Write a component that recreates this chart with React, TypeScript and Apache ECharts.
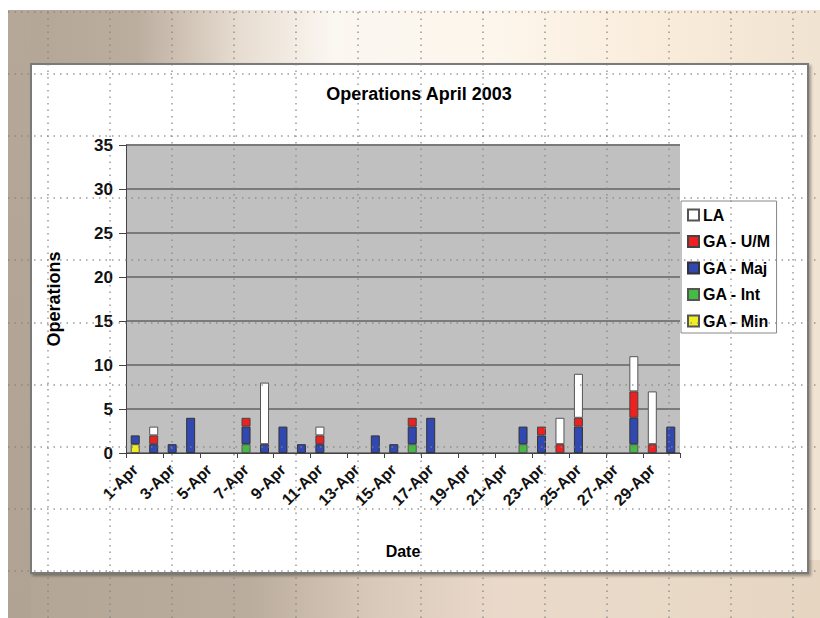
import React, { useEffect, useRef } from "react";
import * as echarts from "echarts";

const categories = [
  "1-Apr", "2-Apr", "3-Apr", "4-Apr", "5-Apr", "6-Apr", "7-Apr", "8-Apr", "9-Apr", "10-Apr",
  "11-Apr", "12-Apr", "13-Apr", "14-Apr", "15-Apr", "16-Apr", "17-Apr", "18-Apr", "19-Apr", "20-Apr",
  "21-Apr", "22-Apr", "23-Apr", "24-Apr", "25-Apr", "26-Apr", "27-Apr", "28-Apr", "29-Apr", "30-Apr",
];
const gaMin = [1, 0, 0, 0, 0, 0, 0, 0, 0, 0, 0, 0, 0, 0, 0, 0, 0, 0, 0, 0, 0, 0, 0, 0, 0, 0, 0, 0, 0, 0];
const gaInt = [0, 0, 0, 0, 0, 0, 1, 0, 0, 0, 0, 0, 0, 0, 0, 1, 0, 0, 0, 0, 0, 1, 0, 0, 0, 0, 0, 1, 0, 0];
const gaMaj = [1, 1, 1, 4, 0, 0, 2, 1, 3, 1, 1, 0, 0, 2, 1, 2, 4, 0, 0, 0, 0, 2, 2, 0, 3, 0, 0, 3, 0, 3];
const gaUM = [0, 1, 0, 0, 0, 0, 1, 0, 0, 0, 1, 0, 0, 0, 0, 1, 0, 0, 0, 0, 0, 0, 1, 1, 1, 0, 0, 3, 1, 0];
const la = [0, 1, 0, 0, 0, 0, 0, 7, 0, 0, 1, 0, 0, 0, 0, 0, 0, 0, 0, 0, 0, 0, 0, 3, 5, 0, 0, 4, 6, 0];
const yTicks = [0, 5, 10, 15, 20, 25, 30, 35];

const FONT = "'Liberation Sans', Arial, sans-serif";

export default function App() {
  const ref = useRef<HTMLDivElement>(null);
  useEffect(() => {
    if (!ref.current) return;
    const chart = echarts.init(ref.current, null, { renderer: "svg" });
    const toData = (a: number[]) => a.map((v) => (v === 0 ? "-" : v));
    const mk = (name: string, data: number[], color: string, border: string) => ({
      name,
      type: "bar",
      stack: "ops",
      barWidth: 9,
      data: toData(data),
      itemStyle: { color, borderColor: border, borderWidth: 1 },
    });

    const dotted: any[] = [];
    const hY = [12, 74, 136, 198, 260, 323, 385, 447, 509, 571];
    const vX = [48, 110, 172, 234, 296, 358, 421, 483, 545, 607, 669, 731, 793];
    hY.forEach((y) =>
      dotted.push({
        type: "line",
        z: 100,
        silent: true,
        shape: { x1: 8, y1: y, x2: 820, y2: y },
        style: { stroke: "rgba(130,130,130,0.8)", lineWidth: 1.5, lineDash: [1.5, 5] },
      })
    );
    vX.forEach((x) =>
      dotted.push({
        type: "line",
        z: 100,
        silent: true,
        shape: { x1: x, y1: 12, x2: x, y2: 618 },
        style: { stroke: "rgba(130,130,130,0.8)", lineWidth: 1.5, lineDash: [1.5, 5] },
      })
    );

    chart.setOption({
      animation: false,
      textStyle: { fontFamily: FONT },
      graphic: [
        {
          type: "rect",
          z: -10,
          shape: { x: 31, y: 64, width: 777, height: 509 },
          style: {
            fill: "#ffffff",
            stroke: "#7a7a7a",
            lineWidth: 2,
            shadowBlur: 3,
            shadowOffsetX: 2,
            shadowOffsetY: 2,
            shadowColor: "rgba(0,0,0,0.35)",
          },
        },
        {
          type: "text",
          z: 10,
          x: 419,
          y: 85,
          style: {
            text: "Operations April 2003",
            fill: "#000",
            font: `bold 18px ${FONT}`,
            textAlign: "center",
            textVerticalAlign: "top",
          },
        },
        ...dotted,
      ],
      legend: {
        orient: "vertical",
        left: 681,
        top: 201,
        data: ["LA", "GA - U/M", "GA - Maj", "GA - Int", "GA - Min"],
        icon: "rect",
        itemWidth: 11,
        itemHeight: 11,
        itemGap: 10.5,
        padding: [6, 6, 4, 6],
        backgroundColor: "#ffffff",
        borderColor: "#888888",
        borderWidth: 1,
        borderRadius: 0,
        textStyle: { fontFamily: FONT, fontWeight: "bold", fontSize: 16, color: "#000", padding: [0, 0, 0, -1] },
      },
      grid: { left: 126, top: 145, right: 140, bottom: 165, show: true, backgroundColor: "#c0c0c0", borderWidth: 0 },
      xAxis: {
        type: "category",
        data: categories,
        name: "Date",
        nameLocation: "middle",
        nameGap: 90,
        nameTextStyle: { fontFamily: FONT, fontWeight: "bold", fontSize: 16, color: "#000" },
        axisLine: { show: true, lineStyle: { color: "#444", width: 1 } },
        axisTick: { show: true, interval: 1, alignWithLabel: false, length: 5, lineStyle: { color: "#444" } },
        axisLabel: {
          interval: 1,
          rotate: 45,
          margin: 14,
          fontFamily: FONT,
          fontWeight: "bold",
          fontSize: 16,
          color: "#111",
        },
        splitLine: { show: false },
      },
      yAxis: {
        type: "value",
        min: 0,
        max: 35,
        interval: 5,
        name: "Operations",
        nameLocation: "middle",
        nameRotate: 90,
        nameGap: 63,
        nameTextStyle: { fontFamily: FONT, fontWeight: "bold", fontSize: 18, color: "#000" },
        axisLine: { show: true, lineStyle: { color: "#444", width: 1 } },
        axisTick: { show: true, length: 7, lineStyle: { color: "#444" } },
        axisLabel: {
          margin: 13,
          fontFamily: FONT,
          fontWeight: "bold",
          fontSize: 17,
          color: "#111",
          formatter: (v: number) => (yTicks.includes(v) ? String(v) : ""),
        },
        splitLine: { show: true, lineStyle: { color: "#7a7a7a", width: 2 } },
      },
      series: [
        mk("GA - Min", gaMin, "#eeee22", "#555"),
        mk("GA - Int", gaInt, "#44bb44", "#555"),
        mk("GA - Maj", gaMaj, "#3048b0", "#333"),
        mk("GA - U/M", gaUM, "#ee2020", "#444"),
        mk("LA", la, "#ffffff", "#555"),
      ],
    });
    return () => chart.dispose();
  }, []);

  return (
    <div style={{ position: "fixed", left: 0, top: 0, width: 820, height: 618, background: "#ffffff", overflow: "hidden" }}>
      <div
        style={{
          position: "absolute",
          left: 8,
          top: 10,
          width: 812,
          height: 608,
          background:
            "linear-gradient(to right, #b2a596 0%, #bcae9f 16%, #e6dbcf 28%, #fbf7f1 40%, #fdf6ec 60%, #f9ecdb 80%, #f1e3d2 100%)",
        }}
      />
      <div
        style={{
          position: "absolute",
          left: 8,
          top: 560,
          width: 812,
          height: 58,
          background:
            "linear-gradient(to right, #b3a596 0%, #bbad9e 30%, #d9c9ba 45%, #ead9ca 60%, #e9d9c7 80%, #e6d5c1 100%)",
        }}
      />
      <div
        style={{
          position: "absolute",
          left: 8,
          top: 10,
          width: 23,
          height: 608,
          background: "linear-gradient(to bottom, #b5a899 0%, #b0a394 100%)",
        }}
      />
      <div ref={ref} style={{ position: "absolute", left: 0, top: 0, width: 820, height: 618 }} />
    </div>
  );
}
